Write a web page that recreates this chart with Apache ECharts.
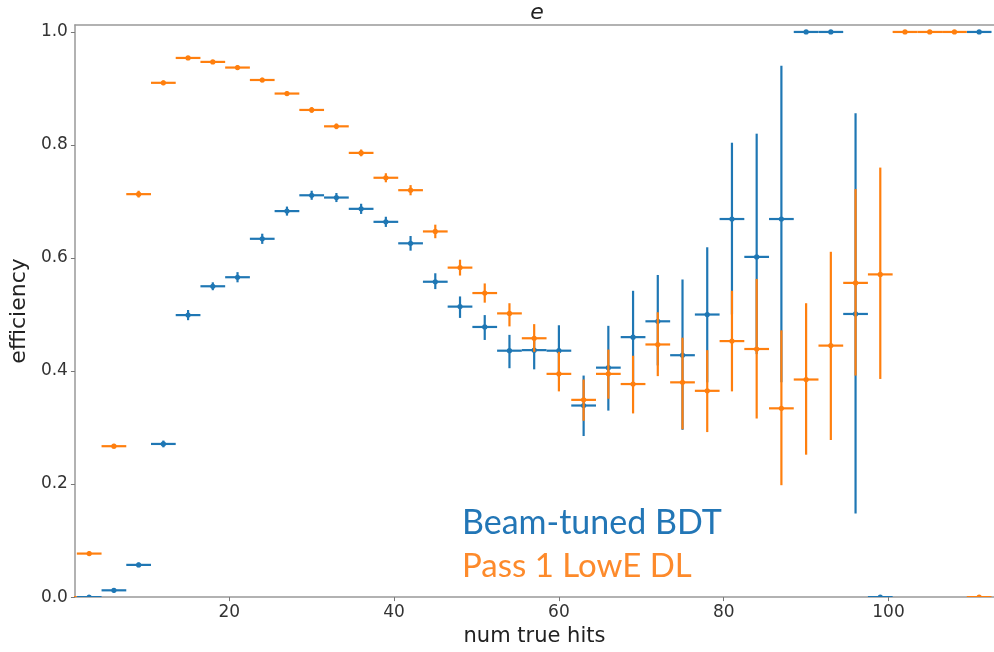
<!DOCTYPE html>
<html>
<head>
<meta charset="utf-8">
<script src="https://cdn.jsdelivr.net/npm/echarts@6/dist/echarts.min.js"></script>
<style>
html,body{margin:0;padding:0;background:#fff;}
#chart{width:994px;height:652px;}
</style>
</head>
<body>
<div id="chart"></div>
<script>
// ---- data ----
const xTicks = [20, 40, 60, 80, 100];
const yTicks = [0, 0.2, 0.4, 0.6, 0.8, 1.0];
const binHalfWidth = 1.5;

// Beam-tuned BDT
const bdtX   = [3,6,9,12,15,18,21,24,27,30,33,36,39,42,45,48,51,54,57,60,63,66,69,72,75,78,81,84,87,90,93,96,99,111];
const bdtVal = [0.0,0.012,0.057,0.271,0.499,0.550,0.566,0.634,0.683,0.711,0.707,0.687,0.664,0.626,0.558,0.514,0.478,0.436,0.437,0.436,0.339,0.406,0.460,0.488,0.428,0.500,0.669,0.602,0.669,1.0,1.0,0.501,0.0,1.0];
const bdtLo  = [0.0,0.008,0.053,0.265,0.490,0.543,0.557,0.625,0.675,0.703,0.699,0.678,0.655,0.613,0.545,0.494,0.455,0.405,0.403,0.390,0.285,0.330,0.380,0.410,0.296,0.380,0.500,0.430,0.380,1.0,1.0,0.148,0.0,1.0];
const bdtHi  = [0.0,0.016,0.061,0.277,0.508,0.557,0.575,0.643,0.691,0.719,0.715,0.696,0.673,0.639,0.573,0.532,0.499,0.464,0.462,0.481,0.392,0.480,0.542,0.570,0.562,0.619,0.804,0.820,0.940,1.0,1.0,0.856,0.0,1.0];

// Pass 1 LowE DL
const dlX   = [0,3,6,9,12,15,18,21,24,27,30,33,36,39,42,45,48,51,54,57,60,63,66,69,72,75,78,81,84,87,90,93,96,99,102,105,108,111];
const dlVal = [0.0,0.077,0.267,0.713,0.910,0.954,0.947,0.937,0.915,0.891,0.862,0.833,0.786,0.742,0.720,0.647,0.583,0.538,0.502,0.458,0.395,0.349,0.395,0.377,0.447,0.380,0.365,0.453,0.439,0.334,0.385,0.445,0.556,0.571,1.0,1.0,1.0,0.0];
const dlLo  = [0.0,0.073,0.263,0.707,0.906,0.951,0.944,0.933,0.911,0.887,0.857,0.828,0.780,0.734,0.711,0.635,0.569,0.521,0.479,0.434,0.364,0.312,0.351,0.325,0.391,0.297,0.292,0.364,0.316,0.198,0.252,0.278,0.392,0.386,1.0,1.0,1.0,0.0];
const dlHi  = [0.0,0.081,0.271,0.719,0.914,0.957,0.950,0.941,0.919,0.895,0.867,0.838,0.792,0.750,0.729,0.659,0.597,0.555,0.520,0.483,0.434,0.385,0.438,0.427,0.504,0.459,0.437,0.542,0.563,0.472,0.520,0.611,0.722,0.760,1.0,1.0,1.0,0.0];

const BLUE = '#1f77b4';
const ORANGE = '#ff7f0e';

function rows(xs, v, lo, hi) {
  return xs.map((x, i) => [x, v[i], lo[i], hi[i]]);
}

function errRenderer(color) {
  return function (params, api) {
    const x = api.value(0), y = api.value(1), lo = api.value(2), hi = api.value(3);
    const c = api.coord([x, y]);
    const l = api.coord([x - binHalfWidth, y]);
    const r = api.coord([x + binHalfWidth, y]);
    const t = api.coord([x, hi]);
    const b = api.coord([x, lo]);
    return {
      type: 'group',
      children: [
        { type: 'line', shape: { x1: l[0], y1: c[1], x2: r[0], y2: c[1] }, style: { stroke: color, lineWidth: 2.2 } },
        { type: 'line', shape: { x1: c[0], y1: t[1], x2: c[0], y2: b[1] }, style: { stroke: color, lineWidth: 2.2 } },
        { type: 'circle', shape: { cx: c[0], cy: c[1], r: 2.6 }, style: { fill: color } }
      ]
    };
  };
}

const XMIN = 1.27, XMAX = 112.8, YMIN = 0, YMAX = 1.0123;
const spine = { show: true, lineStyle: { color: '#999', width: 1.5 } };

const chart = echarts.init(document.getElementById('chart'), null, { renderer: 'canvas' });
chart.setOption({
  animation: false,
  backgroundColor: '#fff',
  grid: { left: 71, right: 0, top: 25, bottom: 49, containLabel: false },
  title: {
    text: 'e', left: 532, top: -3, textAlign: 'center',
    textStyle: { fontFamily: 'DejaVu Sans', fontStyle: 'italic', fontWeight: 'normal', fontSize: 22, color: '#222' }
  },
  xAxis: [{
    type: 'value', min: XMIN, max: XMAX,
    name: 'num true hits', nameLocation: 'middle', nameGap: 24,
    nameTextStyle: { fontFamily: 'DejaVu Sans', fontSize: 21, color: '#222' },
    axisLine: spine,
    axisTick: { show: true, length: 4, lineStyle: { color: '#777' }, customValues: xTicks },
    axisLabel: { customValues: xTicks, fontFamily: 'DejaVu Sans', fontSize: 17, color: '#333', margin: 7 },
    splitLine: { show: false }
  }, {
    type: 'value', position: 'top', min: XMIN, max: XMAX,
    axisLine: spine, axisTick: { show: false }, axisLabel: { show: false }, splitLine: { show: false }
  }],
  yAxis: {
    type: 'value', min: YMIN, max: YMAX,
    name: 'efficiency', nameLocation: 'middle', nameGap: 35,
    nameTextStyle: { fontFamily: 'DejaVu Sans', fontSize: 22, color: '#222' },
    axisLine: spine,
    axisTick: { show: true, length: 4, lineStyle: { color: '#777' }, customValues: yTicks },
    axisLabel: { customValues: yTicks, formatter: v => Number(v).toFixed(1), fontFamily: 'DejaVu Sans', fontSize: 17, color: '#333', margin: 7 },
    splitLine: { show: false }
  },
  series: [
    { name: 'Beam-tuned BDT', type: 'custom', xAxisIndex: 0, clip: true, renderItem: errRenderer(BLUE), data: rows(bdtX, bdtVal, bdtLo, bdtHi), z: 2 },
    { name: 'Pass 1 LowE DL', type: 'custom', xAxisIndex: 0, clip: true, renderItem: errRenderer(ORANGE), data: rows(dlX, dlVal, dlLo, dlHi), z: 3 }
  ],
  graphic: [
    { type: 'text', left: 462, top: 506, style: { text: 'Beam-tuned BDT', fill: '#2276b6', font: '34px Lato' } },
    { type: 'text', left: 462, top: 550, style: { text: 'Pass 1 LowE DL', fill: '#fd8a2b', font: '33px Lato' } }
  ]
});
</script>
</body>
</html>
